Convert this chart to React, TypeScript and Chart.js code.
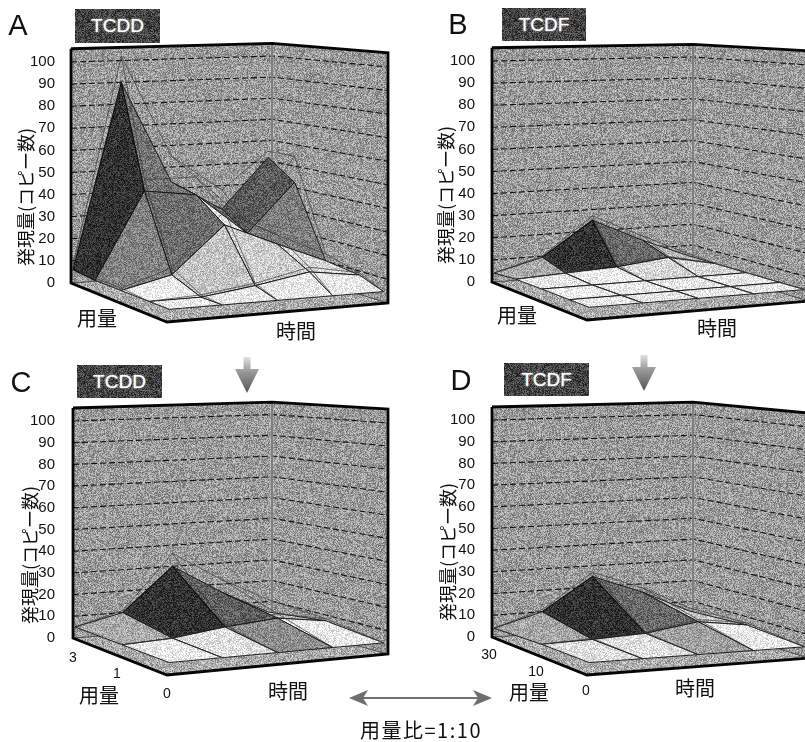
import React, { useEffect, useRef } from "react";
import { Chart, registerables } from "chart.js";

Chart.register(...registerables);

// ---------- data ----------
const yTicks = [0, 10, 20, 30, 40, 50, 60, 70, 80, 90, 100];
const yAxisTitle = "発現量(コピー数)";
const doseLabel = "用量";
const timeLabel = "時間";
const ratioLabel = "用量比=1:10";

const timeSteps = [0.01, 0.25, 0.5, 0.75, 0.98];
const doseStepsFine = [0, 0.21, 0.5, 0.77, 1];
const doseStepsCoarse = [0, 0.5, 1];

// rows: front (lowest dose) to back (highest dose); columns: time
const surfaceA = [
  [5, 5, 5, 5, 5],
  [5, 5, 8, 12, 9],
  [5, 10, 30, 20, 11],
  [5, 43, 40, 21, 43],
  [6, 90, 43, 29, 52],
];
const errorA = [
  [5, 5, 5, 5, 5],
  [5, 6, 9, 14, 10],
  [6, 13, 36, 24, 14],
  [6, 48, 48, 26, 55],
  [8, 102, 55, 38, 55],
];
const shadeA = [
  [235, 235, 235, 235],
  [240, 195, 205, 215],
  [130, 110, 235, 125],
  [50, 115, 115, 90],
];

const surfaceB = [
  [5, 5, 5, 5, 5],
  [5, 5, 5, 5, 5],
  [5, 5, 5, 5, 5],
  [5, 6, 7, 9.5, 5],
  [4, 9.5, 25, 14, 5],
];
const errorB = [
  [5, 5, 5, 5, 5],
  [5, 5, 5, 5, 5],
  [5, 5, 5, 5, 5],
  [5, 6, 8, 10, 5],
  [4, 10, 27, 16, 6],
];
const shadeB = [
  [235, 235, 235, 235],
  [240, 240, 235, 235],
  [235, 240, 215, 215],
  [170, 50, 105, 185],
];

const surfaceC = [
  [5, 5, 5, 5, 5],
  [5, 6, 9, 11, 8],
  [5, 10, 30, 16, 5],
];
const errorC = [
  [5, 5, 5, 5, 5],
  [5, 6, 10, 13, 9],
  [5, 11, 36, 22, 11],
];
const shadeC = [
  [235, 225, 140, 235],
  [170, 50, 95, 190],
];

const surfaceD = [
  [5, 5, 5, 5, 5],
  [5, 5.5, 6.5, 10, 7],
  [4, 10, 25, 16, 5.5],
];
const errorD = [
  [5, 5, 5, 5, 5],
  [5, 6, 7, 11, 8],
  [4, 11, 27, 18, 7],
];
const shadeD = [
  [225, 225, 160, 235],
  [165, 50, 105, 200],
];

// ---------- page layout of each 3-D box ----------
type Corner = { x: number; y: number; k: number };
type Box = { L: Corner; F: Corner; R: Corner; B: Corner };
const boxTop = 106;

const boxA: Box = {
  L: { x: 71, y: 283, k: 2.21 },
  F: { x: 167, y: 322, k: 2.5 },
  R: { x: 388, y: 303, k: 2.36 },
  B: { x: 272, y: 267, k: 2.11 },
};
const boxB: Box = {
  L: { x: 492, y: 282, k: 2.21 },
  F: { x: 587, y: 320, k: 2.5 },
  R: { x: 809, y: 301, k: 2.36 },
  B: { x: 693, y: 266, k: 2.09 },
};
const boxC: Box = {
  L: { x: 73, y: 638, k: 2.17 },
  F: { x: 167, y: 675, k: 2.45 },
  R: { x: 388, y: 654, k: 2.31 },
  B: { x: 272, y: 622, k: 2.075 },
};
const boxD: Box = {
  L: { x: 492, y: 637, k: 2.17 },
  F: { x: 587, y: 675, k: 2.45 },
  R: { x: 809, y: 658, k: 2.31 },
  B: { x: 693, y: 622, k: 2.075 },
};

function project(b: Box, t: number, d: number, v: number) {
  const mix = (key: "x" | "y" | "k") =>
    (1 - t) * (1 - d) * b.F[key] + t * (1 - d) * b.R[key] + t * d * b.B[key] + (1 - t) * d * b.L[key];
  const pageY = mix("y") - v * mix("k");
  return { x: mix("x"), y: (b.L.y - pageY) / b.L.k };
}

// ---------- scanned-halftone fills ----------
const patternCache = new Map<string, HTMLCanvasElement>();
function speckleCanvas(gray: number, amp: number) {
  const key = gray + "/" + amp;
  const hit = patternCache.get(key);
  if (hit) return hit;
  const size = 257;
  const c = document.createElement("canvas");
  c.width = size;
  c.height = size;
  const ctx = c.getContext("2d")!;
  const img = ctx.createImageData(size, size);
  let s = (2463534242 + gray * 7919) | 0;
  for (let i = 0; i < size * size; i++) {
    s ^= s << 13;
    s ^= s >>> 17;
    s ^= s << 5;
    const n = (s >>> 0) / 4294967295;
    const val = Math.max(0, Math.min(255, gray + amp * (n - 0.5) * 2));
    img.data[i * 4] = val;
    img.data[i * 4 + 1] = val;
    img.data[i * 4 + 2] = val;
    img.data[i * 4 + 3] = 255;
  }
  ctx.putImageData(img, 0, 0);
  patternCache.set(key, c);
  return c;
}

const polygonFill = {
  id: "polygonFill",
  beforeDatasetDraw(chart: any, args: any) {
    const ds = chart.data.datasets[args.index];
    if (!ds.shade) return;
    const pts = args.meta.data;
    const ctx = chart.ctx;
    ctx.save();
    ctx.fillStyle = ctx.createPattern(speckleCanvas(ds.shade[0], ds.shade[1]), "repeat");
    ctx.beginPath();
    pts.forEach((p: any, i: number) => (i ? ctx.lineTo(p.x, p.y) : ctx.moveTo(p.x, p.y)));
    ctx.closePath();
    ctx.fill();
    ctx.restore();
  },
};

function line(data: any[], color: string, width: number, extra: any = {}) {
  return {
    data,
    showLine: true,
    pointRadius: 0,
    tension: 0,
    fill: false,
    borderColor: color,
    borderWidth: width,
    ...extra,
  };
}

function buildDatasets(b: Box, doses: number[], surface: number[][], error: number[][], shade: number[][]) {
  const P = (t: number, d: number, v: number) => project(b, t, d, v);
  const out: any[] = [];
  const wallShade = [155, 50];
  // floor slab and walls
  out.push(line([P(0, 1, 0), P(0, 0, 0), P(1, 0, 0), P(1, 1, 0), P(0, 1, 0)], "#222", 0.8, { shade: [170, 50] }));
  out.push(line([P(0, 1, 0), P(1, 1, 0), P(1, 1, boxTop), P(0, 1, boxTop), P(0, 1, 0)], "#333", 0.5, { shade: wallShade }));
  out.push(line([P(1, 1, 0), P(1, 0, 0), P(1, 0, boxTop), P(1, 1, boxTop), P(1, 1, 0)], "#333", 0.5, { shade: wallShade }));
  // value gridlines
  yTicks.slice(1).forEach((v) => {
    out.push(line([P(0, 1, v), P(1, 1, v), P(1, 0, v)], "#111", 1.1, { borderDash: [6, 3] }));
  });
  out.push(line([P(1, 1, 0), P(1, 1, boxTop)], "#ececec", 2.4));
  out.push(line([P(1, 1, 0), P(1, 1, boxTop)], "#111", 1));
  // surface cells, back to front
  for (let j = doses.length - 2; j >= 0; j--) {
    for (let i = timeSteps.length - 2; i >= 0; i--) {
      const a = P(timeSteps[i], doses[j], surface[j][i]);
      const c = P(timeSteps[i + 1], doses[j], surface[j][i + 1]);
      const e = P(timeSteps[i + 1], doses[j + 1], surface[j + 1][i + 1]);
      const f = P(timeSteps[i], doses[j + 1], surface[j + 1][i]);
      const g = shade[j][i];
      out.push(line([a, c, e, f, a], "#111", g < 90 ? 1.2 : 0.9, { shade: [g, g < 90 ? 36 : 42] }));
    }
  }
  // thin upper wire surface
  error.forEach((row, j) => {
    if (row.every((v, i) => v === surface[j][i])) return;
    out.push(line(row.map((v, i) => P(timeSteps[i], doses[j], v)), "#3a3a3a", 0.7));
  });
  timeSteps.forEach((t, i) => {
    const col = doses.map((d, j) => P(t, d, error[j][i]));
    if (error.some((r, j) => r[i] !== surface[j][i])) out.push(line(col, "#3a3a3a", 0.7));
  });
  // box frame
  out.push(
    line(
      [P(0, 1, boxTop), P(1, 1, boxTop), P(1, 0, boxTop), P(1, 0, 0), P(0, 0, 0), P(0, 1, 0), P(0, 1, boxTop)],
      "#050505",
      2.8
    )
  );
  return out;
}

// ---------- one panel ----------
function Panel(props: {
  left: number;
  top: number;
  width: number;
  height: number;
  axisWidth: number;
  box: Box;
  doses: number[];
  surface: number[][];
  error: number[][];
  shade: number[][];
}) {
  const ref = useRef<HTMLCanvasElement>(null);
  useEffect(() => {
    const { left, top, width, height, axisWidth, box, doses, surface, error, shade } = props;
    const toValue = (pageY: number) => (box.L.y - pageY) / box.L.k;
    const chart = new Chart(ref.current!, {
      type: "scatter",
      data: { datasets: buildDatasets(box, doses, surface, error, shade).reverse() },
      plugins: [polygonFill],
      options: {
        animation: false,
        responsive: false,
        devicePixelRatio: 1,
        layout: { padding: 0 },
        plugins: { legend: { display: false }, tooltip: { enabled: false } },
        scales: {
          x: { type: "linear", display: false, min: left + axisWidth, max: left + width },
          y: {
            type: "linear",
            min: toValue(top + height),
            max: toValue(top),
            grid: { display: false },
            border: { display: false },
            afterBuildTicks: (s: any) => {
              s.ticks = yTicks.map((value) => ({ value }));
            },
            afterFit: (s: any) => {
              s.width = axisWidth;
              s.paddingTop = 0;
              s.paddingBottom = 0;
            },
            ticks: {
              autoSkip: false,
              padding: 4,
              color: "#111",
              font: { family: "'Liberation Sans'", size: 15 },
            },
          },
        },
      } as any,
    });
    return () => chart.destroy();
  }, []);
  return (
    <canvas
      ref={ref}
      width={props.width}
      height={props.height}
      style={{ position: "absolute", left: props.left, top: props.top, width: props.width, height: props.height }}
    />
  );
}

// ---------- text helpers ----------
const jp = "'Noto Sans CJK JP'";
function Txt(p: { x: number; y: number; size: number; text: string; font?: string; rotate?: number; spacing?: number }) {
  return (
    <div
      style={{
        position: "absolute",
        left: p.x,
        top: p.y,
        transform: `translate(-50%,-50%) rotate(${p.rotate || 0}deg)`,
        fontFamily: p.font || jp,
        fontSize: p.size,
        letterSpacing: p.spacing || 0,
        color: "#111",
        whiteSpace: "nowrap",
        lineHeight: 1,
      }}
    >
      {p.text}
    </div>
  );
}

function Tag(p: { x: number; y: number; w: number; h: number; text: string; bg: string }) {
  return (
    <div
      style={{
        position: "absolute",
        left: p.x,
        top: p.y,
        width: p.w,
        height: p.h,
        backgroundImage: p.bg ? `url(${p.bg})` : undefined,
        backgroundColor: "#444",
        color: "#fff",
        fontFamily: "'Liberation Sans'",
        fontSize: 19,
        textAlign: "center",
        lineHeight: p.h + "px",
        textShadow: "0 0 2px #ddd",
      }}
    >
      {p.text}
    </div>
  );
}

function DownArrow({ x, y, id }: { x: number; y: number; id: string }) {
  return (
    <svg style={{ position: "absolute", left: x - 14, top: y, width: 28, height: 38 }} viewBox="0 0 28 38">
      <defs>
        <linearGradient id={id} x1="0" y1="0" x2="0" y2="1">
          <stop offset="0" stopColor="#e2e2e2" />
          <stop offset="0.4" stopColor="#9a9a9a" />
          <stop offset="1" stopColor="#555" />
        </linearGradient>
      </defs>
      <path d="M10.5 1 H17.5 V13 H26 L14 37 L2 13 H10.5 Z" fill={`url(#${id})`} />
    </svg>
  );
}

export default function App() {
  const tagBg = useRef<string>("");
  if (!tagBg.current && typeof document !== "undefined") {
    tagBg.current = speckleCanvas(68, 45).toDataURL();
  }
  const bg = tagBg.current;
  const letter = "'Liberation Sans'";
  return (
    <div style={{ position: "absolute", left: 0, top: 0, width: 805, height: 742, overflow: "hidden", background: "#fff" }}>
      <Panel left={0} top={30} width={400} height={310} axisWidth={67} box={boxA} doses={doseStepsFine} surface={surfaceA} error={errorA} shade={shadeA} />
      <Panel left={421} top={30} width={384} height={310} axisWidth={66} box={boxB} doses={doseStepsFine} surface={surfaceB} error={errorB} shade={shadeB} />
      <Panel left={0} top={385} width={400} height={310} axisWidth={67} box={boxC} doses={doseStepsCoarse} surface={surfaceC} error={errorC} shade={shadeC} />
      <Panel left={421} top={385} width={384} height={310} axisWidth={66} box={boxD} doses={doseStepsCoarse} surface={surfaceD} error={errorD} shade={shadeD} />

      <Txt x={18} y={25} size={29} text="A" font={letter} />
      <Txt x={458} y={24} size={29} text="B" font={letter} />
      <Txt x={21} y={382} size={29} text="C" font={letter} />
      <Txt x={461} y={380} size={29} text="D" font={letter} />

      <Tag x={75} y={9} w={85} h={34} text="TCDD" bg={bg} />
      <Tag x={502} y={8} w={84} h={33} text="TCDF" bg={bg} />
      <Tag x={77} y={365} w={85} h={33} text="TCDD" bg={bg} />
      <Tag x={504} y={363} w={85} h={33} text="TCDF" bg={bg} />

      <Txt x={25} y={197} size={18} text={yAxisTitle} rotate={-90} />
      <Txt x={445} y={195} size={18} text={yAxisTitle} rotate={-90} />
      <Txt x={29} y={555} size={18} text={yAxisTitle} rotate={-90} />
      <Txt x={447} y={552} size={18} text={yAxisTitle} rotate={-90} />

      <Txt x={97} y={318} size={20} text={doseLabel} />
      <Txt x={296} y={331} size={20} text={timeLabel} />
      <Txt x={517} y={315} size={20} text={doseLabel} />
      <Txt x={717} y={328} size={20} text={timeLabel} />
      <Txt x={99} y={695} size={20} text={doseLabel} />
      <Txt x={288} y={691} size={20} text={timeLabel} />
      <Txt x={529} y={692} size={20} text={doseLabel} />
      <Txt x={695} y={688} size={20} text={timeLabel} />

      <Txt x={73} y={657} size={14} text="3" font={letter} />
      <Txt x={117} y={673} size={14} text="1" font={letter} />
      <Txt x={167} y={693} size={14} text="0" font={letter} />
      <Txt x={489} y={654} size={14} text="30" font={letter} />
      <Txt x={536} y={671} size={14} text="10" font={letter} />
      <Txt x={586} y={690} size={14} text="0" font={letter} />

      <DownArrow x={247} y={356} id="arrowC" />
      <DownArrow x={644} y={354} id="arrowD" />

      <svg style={{ position: "absolute", left: 340, top: 685, width: 165, height: 26 }} viewBox="0 0 165 26">
        <line x1="20" y1="13" x2="140" y2="13" stroke="#444" strokeWidth="1.4" />
        <path d="M9 13 L28 5 L23 13 L28 21 Z" fill="#6e6e6e" />
        <path d="M152 13 L133 5 L138 13 L133 21 Z" fill="#6e6e6e" />
      </svg>

      <Txt x={421} y={730} size={20} text={ratioLabel} spacing={1.5} />
    </div>
  );
}
